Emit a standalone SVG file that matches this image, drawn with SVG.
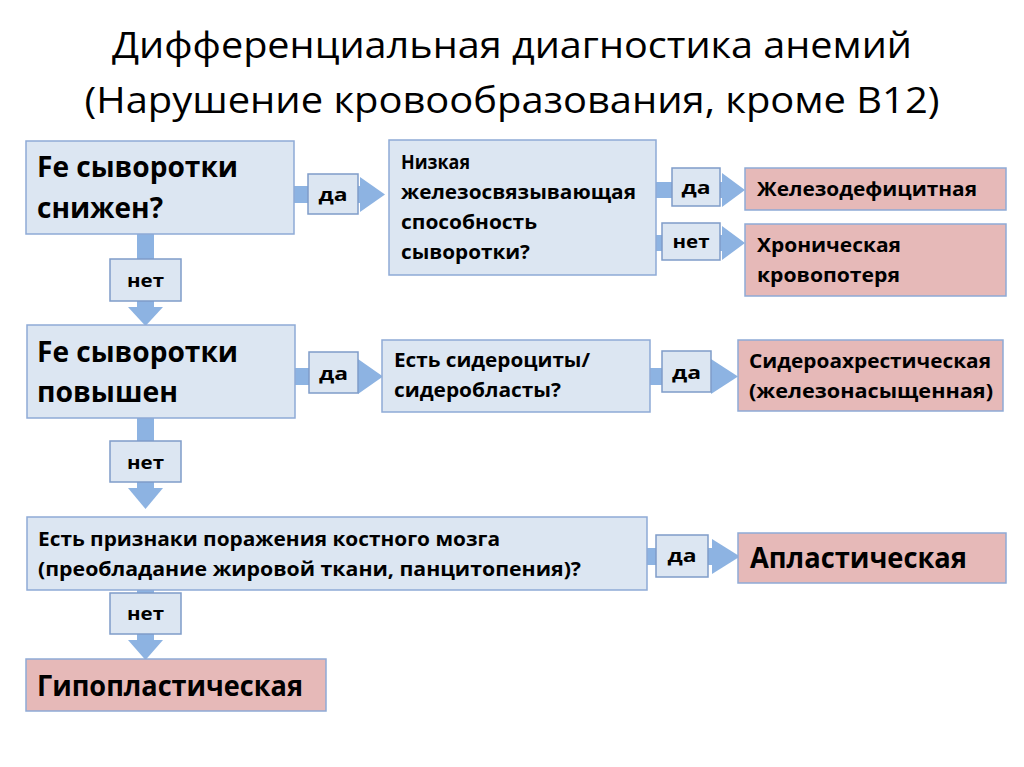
<svg xmlns="http://www.w3.org/2000/svg" width="1024" height="767" viewBox="0 0 1024 767">
<style>
.q{fill:#dce6f2;stroke:#8eaad6;stroke-width:1.5}
.r{fill:#e6b9b8;stroke:#8eaad6;stroke-width:1.5}
.l{fill:#dce6f2;stroke:#7f9cc9;stroke-width:1.5}
.a{fill:#8db3e2}
text{font-family:"Open Sans","Noto Sans","Liberation Sans",sans-serif;fill:#000}
.t{font-size:37px;font-weight:400}
.b{font-size:29px;font-weight:700}
.m{font-size:20px;font-weight:700}
.s{font-size:18px;font-weight:700}
.c{text-anchor:middle}
</style>
<rect width="1024" height="767" fill="#fff"/>
<g id="title">
<text class="t c" x="512" y="58" textLength="800" lengthAdjust="spacingAndGlyphs">Дифференциальная диагностика анемий</text>
<text class="t c" x="512" y="113" textLength="855" lengthAdjust="spacingAndGlyphs">(Нарушение кровообразования, кроме B12)</text>
</g>
<g id="connectors">
<rect class="a" x="294" y="186" width="66" height="17"/>
<polygon class="a" points="360,177 385,194.5 360,212"/>
<rect class="l" x="308" y="174" width="50" height="40"/>
<text class="s c" x="333" y="201" textLength="29" lengthAdjust="spacingAndGlyphs">да</text>
<rect class="a" x="656" y="182" width="68" height="16"/>
<polygon class="a" points="722,173 745,190 722,207"/>
<rect class="l" x="672" y="168" width="48" height="38"/>
<text class="s c" x="696" y="194" textLength="29" lengthAdjust="spacingAndGlyphs">да</text>
<rect class="a" x="656" y="235" width="68" height="16"/>
<polygon class="a" points="722,226 745,243 722,260"/>
<rect class="l" x="662" y="223" width="58" height="37"/>
<text class="s c" x="691" y="248" textLength="37" lengthAdjust="spacingAndGlyphs">нет</text>
<rect class="a" x="137" y="234" width="17" height="75"/>
<polygon class="a" points="128,307 163,307 145.5,326"/>
<rect class="l" x="110" y="259" width="71" height="42"/>
<text class="s c" x="145.5" y="287" textLength="37" lengthAdjust="spacingAndGlyphs">нет</text>
<rect class="a" x="295" y="368" width="65" height="17"/>
<polygon class="a" points="358,359 383,376.5 358,394"/>
<rect class="l" x="309" y="352" width="49" height="41"/>
<text class="s c" x="333.5" y="380" textLength="29" lengthAdjust="spacingAndGlyphs">да</text>
<rect class="a" x="650" y="368" width="63" height="17"/>
<polygon class="a" points="711,359 738,376.5 711,394"/>
<rect class="l" x="662" y="351" width="49" height="41"/>
<text class="s c" x="686.5" y="379" textLength="29" lengthAdjust="spacingAndGlyphs">да</text>
<rect class="a" x="137" y="418" width="17" height="72"/>
<polygon class="a" points="128,488 163,488 145.5,509"/>
<rect class="l" x="110" y="441" width="71" height="41"/>
<text class="s c" x="145.5" y="469" textLength="37" lengthAdjust="spacingAndGlyphs">нет</text>
<rect class="a" x="647" y="548" width="67" height="17"/>
<polygon class="a" points="712,539 740,556.5 712,574"/>
<rect class="l" x="656" y="535" width="52" height="42"/>
<text class="s c" x="682" y="562" textLength="29" lengthAdjust="spacingAndGlyphs">да</text>
<rect class="a" x="137" y="590" width="17" height="52"/>
<polygon class="a" points="128,640 163,640 145.5,660"/>
<rect class="l" x="110" y="593" width="71" height="41"/>
<text class="s c" x="145.5" y="620" textLength="37" lengthAdjust="spacingAndGlyphs">нет</text>
</g>
<g id="n1">
<rect class="q" x="26" y="141" width="268" height="93"/>
<text class="b" x="37" y="177" textLength="201" lengthAdjust="spacingAndGlyphs">Fe сыворотки</text>
<text class="b" x="37" y="218" textLength="126" lengthAdjust="spacingAndGlyphs">снижен?</text>
</g>
<g id="n2">
<rect class="q" x="389" y="140" width="267" height="135"/>
<text class="m" x="401" y="169" textLength="69" lengthAdjust="spacingAndGlyphs">Низкая</text>
<text class="m" x="401" y="199" textLength="235" lengthAdjust="spacingAndGlyphs">железосвязывающая</text>
<text class="m" x="401" y="229" textLength="136" lengthAdjust="spacingAndGlyphs">способность</text>
<text class="m" x="401" y="259" textLength="129" lengthAdjust="spacingAndGlyphs">сыворотки?</text>
</g>
<g id="n3">
<rect class="r" x="745" y="168" width="261" height="42"/>
<text class="m" x="757" y="196" textLength="220" lengthAdjust="spacingAndGlyphs">Железодефицитная</text>
</g>
<g id="n4">
<rect class="r" x="745" y="224" width="261" height="72"/>
<text class="m" x="757" y="252" textLength="144" lengthAdjust="spacingAndGlyphs">Хроническая</text>
<text class="m" x="757" y="282" textLength="143" lengthAdjust="spacingAndGlyphs">кровопотеря</text>
</g>
<g id="n5">
<rect class="q" x="27" y="325" width="268" height="93"/>
<text class="b" x="37" y="362" textLength="201" lengthAdjust="spacingAndGlyphs">Fe сыворотки</text>
<text class="b" x="37" y="402" textLength="141" lengthAdjust="spacingAndGlyphs">повышен</text>
</g>
<g id="n6">
<rect class="q" x="382" y="340" width="268" height="72"/>
<text class="m" x="394" y="367" textLength="196" lengthAdjust="spacingAndGlyphs">Есть сидероциты/</text>
<text class="m" x="394" y="397" textLength="167" lengthAdjust="spacingAndGlyphs">сидеробласты?</text>
</g>
<g id="n7">
<rect class="r" x="738" y="340" width="265" height="71"/>
<text class="m" x="749" y="368" textLength="242" lengthAdjust="spacingAndGlyphs">Сидероахрестическая</text>
<text class="m" x="749" y="398" textLength="244" lengthAdjust="spacingAndGlyphs">(железонасыщенная)</text>
</g>
<g id="n8">
<rect class="q" x="27" y="517" width="620" height="73"/>
<text class="m" x="38" y="546" textLength="462" lengthAdjust="spacingAndGlyphs">Есть признаки поражения костного мозга</text>
<text class="m" x="38" y="576" textLength="543" lengthAdjust="spacingAndGlyphs">(преобладание жировой ткани, панцитопения)?</text>
</g>
<g id="n9">
<rect class="r" x="738" y="533" width="268" height="50"/>
<text class="b" x="750" y="568" textLength="217" lengthAdjust="spacingAndGlyphs">Апластическая</text>
</g>
<g id="n10">
<rect class="r" x="26" y="659" width="300" height="52"/>
<text class="b" x="37" y="696" textLength="266" lengthAdjust="spacingAndGlyphs">Гипопластическая</text>
</g>
</svg>
